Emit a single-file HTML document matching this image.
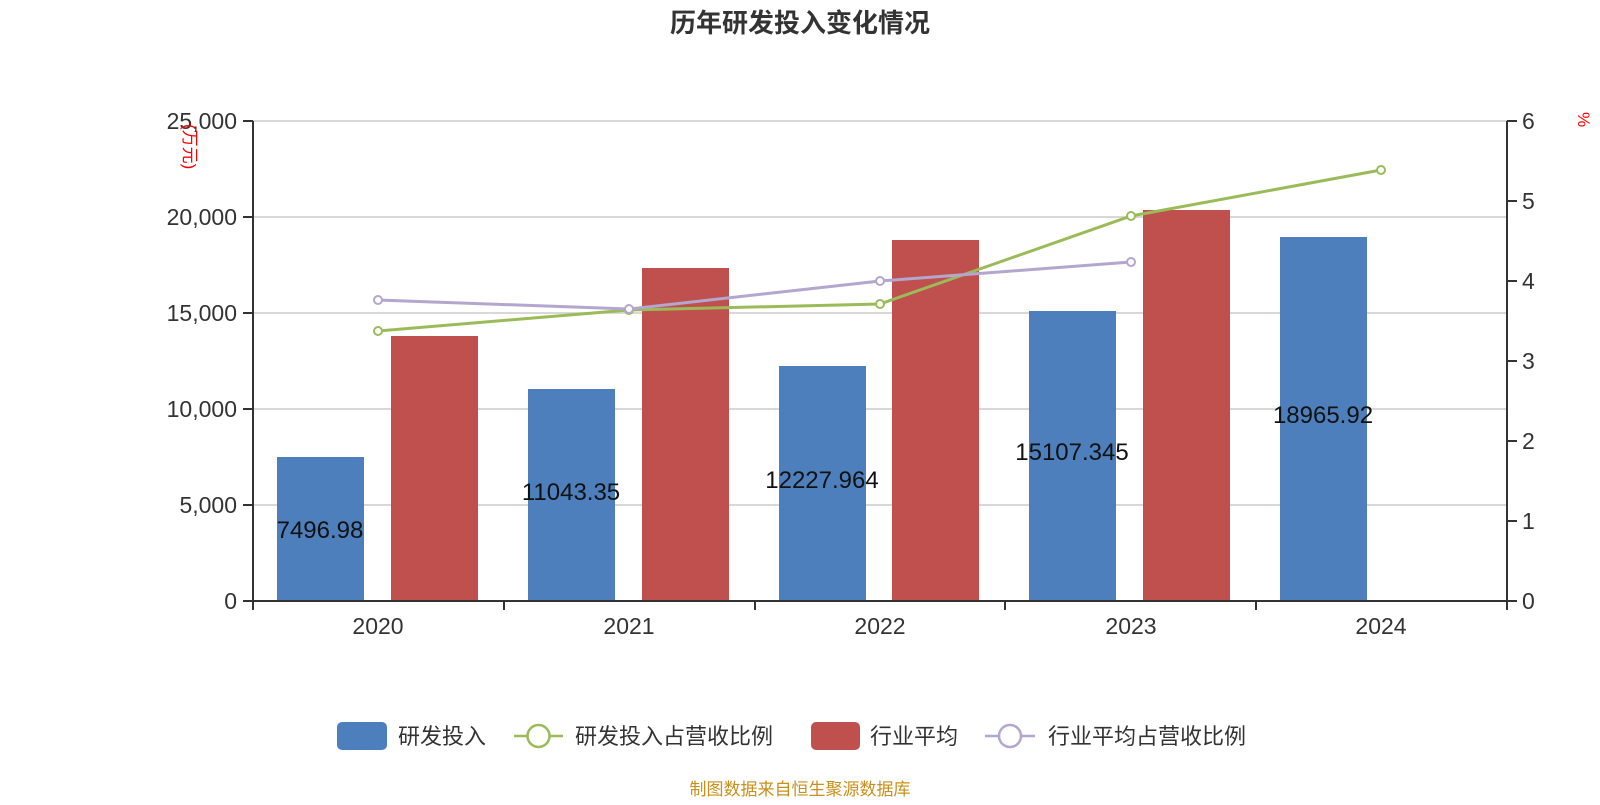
<!DOCTYPE html>
<html><head><meta charset="utf-8"><style>
html,body{margin:0;padding:0;background:#fff;}
text{font-family:"Liberation Sans","Noto Sans CJK SC",sans-serif;}
</style></head><body>
<svg width="1600" height="800" xmlns="http://www.w3.org/2000/svg">
<text x="800" y="32" text-anchor="middle" font-size="26" font-weight="bold" fill="#333">历年研发投入变化情况</text>
<g stroke="#ccc" stroke-width="1.5">
<line x1="253" y1="121" x2="1507" y2="121"/>
<line x1="253" y1="217" x2="1507" y2="217"/>
<line x1="253" y1="313" x2="1507" y2="313"/>
<line x1="253" y1="409" x2="1507" y2="409"/>
<line x1="253" y1="505" x2="1507" y2="505"/>
</g>
<g fill="#4e7fbd">
<rect x="277" y="457" width="87" height="144"/>
<rect x="528" y="389" width="87" height="212"/>
<rect x="779" y="366" width="87" height="235"/>
<rect x="1029" y="311" width="87" height="290"/>
<rect x="1280" y="237" width="87" height="364"/>
</g>
<g fill="#c0504d">
<rect x="391" y="336" width="87" height="265"/>
<rect x="642" y="268" width="87" height="333"/>
<rect x="892" y="240" width="87" height="361"/>
<rect x="1143" y="210" width="87" height="391"/>
</g>
<g font-size="24" fill="#111" text-anchor="middle">
<text x="320" y="538">7496.98</text>
<text x="571" y="500">11043.35</text>
<text x="822" y="488">12227.964</text>
<text x="1072" y="460">15107.345</text>
<text x="1323" y="423">18965.92</text>
</g>
<g stroke="#333" stroke-width="2" fill="none">
<line x1="253" y1="121" x2="253" y2="601"/>
<line x1="1507" y1="121" x2="1507" y2="601"/>
<line x1="253" y1="601" x2="1507" y2="601"/>
<path d="M243 121h10M243 217h10M243 313h10M243 409h10M243 505h10M243 601h10"/>
<path d="M1507 121h10M1507 201h10M1507 281h10M1507 361h10M1507 441h10M1507 521h10M1507 601h10"/>
<path d="M253 601v9M504 601v9M755 601v9M1005 601v9M1256 601v9M1507 601v9"/>
</g>
<g font-size="23" fill="#333" text-anchor="end">
<text x="237" y="129">25,000</text><text x="237" y="225">20,000</text><text x="237" y="321">15,000</text>
<text x="237" y="417">10,000</text><text x="237" y="513">5,000</text><text x="237" y="609">0</text>
</g>
<g font-size="23" fill="#333">
<text x="1522" y="129">6</text><text x="1522" y="209">5</text><text x="1522" y="289">4</text><text x="1522" y="369">3</text>
<text x="1522" y="449">2</text><text x="1522" y="529">1</text><text x="1522" y="609">0</text>
</g>
<g font-size="23" fill="#333" text-anchor="middle">
<text x="378" y="634">2020</text><text x="629" y="634">2021</text><text x="880" y="634">2022</text><text x="1131" y="634">2023</text><text x="1381" y="634">2024</text>
</g>
<text transform="translate(184,124) rotate(90)" font-size="17" fill="red">(万元)</text>
<text transform="translate(1578,112) rotate(90)" font-size="17" fill="red">%</text>
<polyline points="378,331 629,310 880,304 1131,216 1381,170" fill="none" stroke="#9bbb59" stroke-width="3"/>
<polyline points="378,300 629,309 880,281 1131,262" fill="none" stroke="#b3a6cf" stroke-width="3"/>
<g fill="#fff" stroke="#9bbb59" stroke-width="2">
<circle cx="378" cy="331" r="4"/><circle cx="629" cy="310" r="4"/><circle cx="880" cy="304" r="4"/><circle cx="1131" cy="216" r="4"/><circle cx="1381" cy="170" r="4"/>
</g>
<g fill="#fff" stroke="#b3a6cf" stroke-width="2">
<circle cx="378" cy="300" r="4"/><circle cx="629" cy="309" r="4"/><circle cx="880" cy="281" r="4"/><circle cx="1131" cy="262" r="4"/>
</g>
<rect x="337" y="722" width="50" height="28" rx="5" fill="#4e7fbd"/>
<text x="398" y="744" font-size="22" fill="#333">研发投入</text>
<line x1="514" y1="736" x2="563" y2="736" stroke="#9bbb59" stroke-width="2.5"/>
<circle cx="538.5" cy="736" r="11" fill="#fff" stroke="#9bbb59" stroke-width="2.5"/>
<text x="575" y="744" font-size="22" fill="#333">研发投入占营收比例</text>
<rect x="811" y="722" width="49" height="28" rx="5" fill="#c0504d"/>
<text x="870" y="744" font-size="22" fill="#333">行业平均</text>
<line x1="985" y1="736" x2="1035" y2="736" stroke="#b3a6cf" stroke-width="2.5"/>
<circle cx="1010" cy="736" r="11" fill="#fff" stroke="#b3a6cf" stroke-width="2.5"/>
<text x="1048" y="744" font-size="22" fill="#333">行业平均占营收比例</text>
<text x="800" y="795" text-anchor="middle" font-size="17" fill="#c8901a">制图数据来自恒生聚源数据库</text>
</svg>
</body></html>
